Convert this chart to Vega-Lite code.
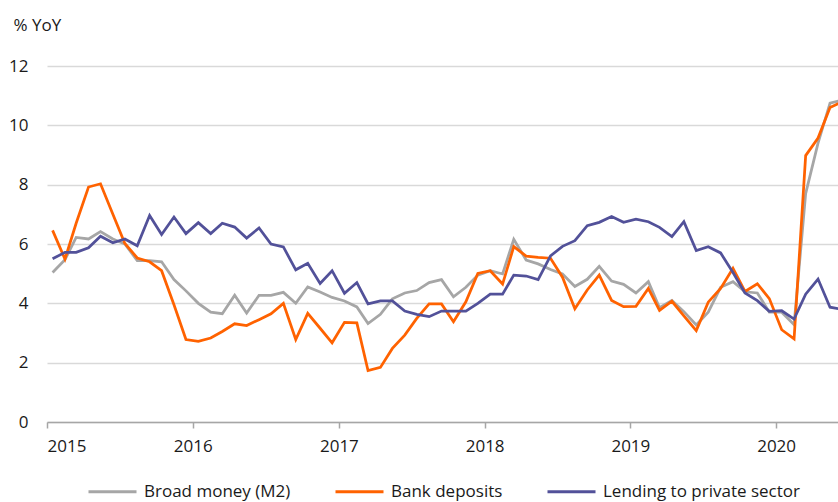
{
  "$schema": "https://vega.github.io/schema/vega-lite/v6.json",
  "width": 791,
  "height": 356,
  "autosize": {"type": "none"},
  "padding": {"left": 47, "top": 66, "right": 0, "bottom": 80},
  "background": "white",
  "config": {"font": "Open Sans", "view": {"stroke": null}},
  "data": {
    "values": [
      {"date": "2015-01-15", "Broad money (M2)": 5.04, "Bank deposits": 6.46, "Lending to private sector": 5.5},
      {"date": "2015-02-15", "Broad money (M2)": 5.47, "Bank deposits": 5.49, "Lending to private sector": 5.72},
      {"date": "2015-03-15", "Broad money (M2)": 6.22, "Bank deposits": 6.7, "Lending to private sector": 5.72},
      {"date": "2015-04-15", "Broad money (M2)": 6.17, "Bank deposits": 7.92, "Lending to private sector": 5.87},
      {"date": "2015-05-15", "Broad money (M2)": 6.42, "Bank deposits": 8.03, "Lending to private sector": 6.26},
      {"date": "2015-06-15", "Broad money (M2)": 6.17, "Bank deposits": 7.0, "Lending to private sector": 6.04},
      {"date": "2015-07-15", "Broad money (M2)": 6.0, "Bank deposits": 6.02, "Lending to private sector": 6.17},
      {"date": "2015-08-15", "Broad money (M2)": 5.44, "Bank deposits": 5.53, "Lending to private sector": 5.94},
      {"date": "2015-09-15", "Broad money (M2)": 5.44, "Bank deposits": 5.4, "Lending to private sector": 6.96},
      {"date": "2015-10-15", "Broad money (M2)": 5.4, "Bank deposits": 5.1, "Lending to private sector": 6.32},
      {"date": "2015-11-15", "Broad money (M2)": 4.8, "Bank deposits": 3.95, "Lending to private sector": 6.91},
      {"date": "2015-12-15", "Broad money (M2)": 4.42, "Bank deposits": 2.78, "Lending to private sector": 6.35},
      {"date": "2016-01-15", "Broad money (M2)": 4.0, "Bank deposits": 2.72, "Lending to private sector": 6.72},
      {"date": "2016-02-15", "Broad money (M2)": 3.7, "Bank deposits": 2.83, "Lending to private sector": 6.35},
      {"date": "2016-03-15", "Broad money (M2)": 3.65, "Bank deposits": 3.05, "Lending to private sector": 6.7},
      {"date": "2016-04-15", "Broad money (M2)": 4.27, "Bank deposits": 3.31, "Lending to private sector": 6.57},
      {"date": "2016-05-15", "Broad money (M2)": 3.67, "Bank deposits": 3.25, "Lending to private sector": 6.2},
      {"date": "2016-06-15", "Broad money (M2)": 4.27, "Bank deposits": 3.45, "Lending to private sector": 6.54},
      {"date": "2016-07-15", "Broad money (M2)": 4.27, "Bank deposits": 3.65, "Lending to private sector": 6.0},
      {"date": "2016-08-15", "Broad money (M2)": 4.37, "Bank deposits": 4.0, "Lending to private sector": 5.9},
      {"date": "2016-09-15", "Broad money (M2)": 4.0, "Bank deposits": 2.78, "Lending to private sector": 5.13},
      {"date": "2016-10-15", "Broad money (M2)": 4.55, "Bank deposits": 3.66, "Lending to private sector": 5.35},
      {"date": "2016-11-15", "Broad money (M2)": 4.38, "Bank deposits": 3.16, "Lending to private sector": 4.67},
      {"date": "2016-12-15", "Broad money (M2)": 4.2, "Bank deposits": 2.67, "Lending to private sector": 5.1},
      {"date": "2017-01-15", "Broad money (M2)": 4.08, "Bank deposits": 3.36, "Lending to private sector": 4.34},
      {"date": "2017-02-15", "Broad money (M2)": 3.88, "Bank deposits": 3.34, "Lending to private sector": 4.7},
      {"date": "2017-03-15", "Broad money (M2)": 3.32, "Bank deposits": 1.73, "Lending to private sector": 3.98},
      {"date": "2017-04-15", "Broad money (M2)": 3.63, "Bank deposits": 1.84, "Lending to private sector": 4.08},
      {"date": "2017-05-15", "Broad money (M2)": 4.15, "Bank deposits": 2.48, "Lending to private sector": 4.08},
      {"date": "2017-06-15", "Broad money (M2)": 4.35, "Bank deposits": 2.93, "Lending to private sector": 3.74},
      {"date": "2017-07-15", "Broad money (M2)": 4.43, "Bank deposits": 3.49, "Lending to private sector": 3.63},
      {"date": "2017-08-15", "Broad money (M2)": 4.7, "Bank deposits": 3.98, "Lending to private sector": 3.55},
      {"date": "2017-09-15", "Broad money (M2)": 4.8, "Bank deposits": 3.98, "Lending to private sector": 3.74},
      {"date": "2017-10-15", "Broad money (M2)": 4.22, "Bank deposits": 3.38, "Lending to private sector": 3.74},
      {"date": "2017-11-15", "Broad money (M2)": 4.54, "Bank deposits": 4.05, "Lending to private sector": 3.74},
      {"date": "2017-12-15", "Broad money (M2)": 4.95, "Bank deposits": 5.01, "Lending to private sector": 4.0},
      {"date": "2018-01-15", "Broad money (M2)": 5.1, "Bank deposits": 5.1, "Lending to private sector": 4.31},
      {"date": "2018-02-15", "Broad money (M2)": 4.99, "Bank deposits": 4.65, "Lending to private sector": 4.31},
      {"date": "2018-03-15", "Broad money (M2)": 6.16, "Bank deposits": 5.91, "Lending to private sector": 4.95},
      {"date": "2018-04-15", "Broad money (M2)": 5.46, "Bank deposits": 5.59, "Lending to private sector": 4.92},
      {"date": "2018-05-15", "Broad money (M2)": 5.33, "Bank deposits": 5.55, "Lending to private sector": 4.8},
      {"date": "2018-06-15", "Broad money (M2)": 5.14, "Bank deposits": 5.52, "Lending to private sector": 5.6},
      {"date": "2018-07-15", "Broad money (M2)": 4.99, "Bank deposits": 4.88, "Lending to private sector": 5.92},
      {"date": "2018-08-15", "Broad money (M2)": 4.57, "Bank deposits": 3.82, "Lending to private sector": 6.11},
      {"date": "2018-09-15", "Broad money (M2)": 4.81, "Bank deposits": 4.45, "Lending to private sector": 6.62},
      {"date": "2018-10-15", "Broad money (M2)": 5.25, "Bank deposits": 4.95, "Lending to private sector": 6.73},
      {"date": "2018-11-15", "Broad money (M2)": 4.75, "Bank deposits": 4.1, "Lending to private sector": 6.93},
      {"date": "2018-12-15", "Broad money (M2)": 4.64, "Bank deposits": 3.89, "Lending to private sector": 6.73},
      {"date": "2019-01-15", "Broad money (M2)": 4.35, "Bank deposits": 3.9, "Lending to private sector": 6.84},
      {"date": "2019-02-15", "Broad money (M2)": 4.73, "Bank deposits": 4.5, "Lending to private sector": 6.75},
      {"date": "2019-03-15", "Broad money (M2)": 3.85, "Bank deposits": 3.76, "Lending to private sector": 6.56},
      {"date": "2019-04-15", "Broad money (M2)": 4.1, "Bank deposits": 4.07, "Lending to private sector": 6.25},
      {"date": "2019-05-15", "Broad money (M2)": 3.72, "Bank deposits": 3.58, "Lending to private sector": 6.75},
      {"date": "2019-06-15", "Broad money (M2)": 3.27, "Bank deposits": 3.08, "Lending to private sector": 5.78},
      {"date": "2019-07-15", "Broad money (M2)": 3.7, "Bank deposits": 4.04, "Lending to private sector": 5.91},
      {"date": "2019-08-15", "Broad money (M2)": 4.54, "Bank deposits": 4.5, "Lending to private sector": 5.7},
      {"date": "2019-09-15", "Broad money (M2)": 4.73, "Bank deposits": 5.18, "Lending to private sector": 5.04},
      {"date": "2019-10-15", "Broad money (M2)": 4.39, "Bank deposits": 4.4, "Lending to private sector": 4.35},
      {"date": "2019-11-15", "Broad money (M2)": 4.35, "Bank deposits": 4.66, "Lending to private sector": 4.09},
      {"date": "2019-12-15", "Broad money (M2)": 3.7, "Bank deposits": 4.16, "Lending to private sector": 3.73},
      {"date": "2020-01-15", "Broad money (M2)": 3.7, "Bank deposits": 3.11, "Lending to private sector": 3.75},
      {"date": "2020-02-15", "Broad money (M2)": 3.28, "Bank deposits": 2.8, "Lending to private sector": 3.47},
      {"date": "2020-03-15", "Broad money (M2)": 7.7, "Bank deposits": 8.98, "Lending to private sector": 4.31},
      {"date": "2020-04-15", "Broad money (M2)": 9.4, "Bank deposits": 9.57, "Lending to private sector": 4.82},
      {"date": "2020-05-15", "Broad money (M2)": 10.75, "Bank deposits": 10.6, "Lending to private sector": 3.87},
      {"date": "2020-06-15", "Broad money (M2)": 10.85, "Bank deposits": 10.8, "Lending to private sector": 3.8}
    ]
  },
  "transform": [
    {"fold": ["Broad money (M2)", "Bank deposits", "Lending to private sector"], "as": ["series", "value"]}
  ],
  "mark": {"type": "line", "strokeWidth": 2.75, "clip": true},
  "encoding": {
    "x": {
      "field": "date",
      "type": "temporal",
      "scale": {
        "type": "utc",
        "domain": [
          {"year": 2015, "month": 1, "date": 1, "utc": true},
          {"year": 2020, "month": 6, "date": 4, "utc": true}
        ]
      },
      "axis": {
        "values": [
          {"year": 2015, "month": 1, "date": 1, "utc": true},
          {"year": 2016, "month": 1, "date": 1, "utc": true},
          {"year": 2017, "month": 1, "date": 1, "utc": true},
          {"year": 2018, "month": 1, "date": 1, "utc": true},
          {"year": 2019, "month": 1, "date": 1, "utc": true},
          {"year": 2020, "month": 1, "date": 1, "utc": true}
        ],
        "format": "%Y",
        "formatType": "utc",
        "title": null,
        "grid": false,
        "domainColor": "#a6a6a6",
        "domainWidth": 1.5,
        "tickColor": "#a6a6a6",
        "tickWidth": 1.5,
        "tickSize": 6,
        "labelFontSize": 17,
        "labelColor": "#1a1a1a",
        "labelPadding": 10
      }
    },
    "y": {
      "field": "value",
      "type": "quantitative",
      "scale": {"domain": [0, 12]},
      "axis": {
        "values": [0, 2, 4, 6, 8, 10, 12],
        "grid": true,
        "gridColor": "#d9d9d9",
        "gridWidth": 1.5,
        "domain": false,
        "ticks": false,
        "labelFontSize": 17,
        "labelColor": "#1a1a1a",
        "labelPadding": 19,
        "title": "% YoY",
        "titleAngle": 0,
        "titleAlign": "left",
        "titleBaseline": "middle",
        "titleX": -34,
        "titleY": -41,
        "titleFontSize": 17,
        "titleFontWeight": "normal",
        "titleColor": "#1a1a1a"
      }
    },
    "color": {
      "field": "series",
      "type": "nominal",
      "scale": {
        "domain": ["Broad money (M2)", "Bank deposits", "Lending to private sector"],
        "range": ["#a6a6a6", "#ff6200", "#525199"]
      },
      "legend": {
        "title": null,
        "orient": "none",
        "legendX": 40,
        "legendY": 400,
        "direction": "horizontal",
        "symbolType": "stroke",
        "symbolSize": 2304,
        "symbolStrokeWidth": 3,
        "labelFontSize": 17,
        "labelColor": "#1a1a1a",
        "labelLimit": 400,
        "labelOffset": 6,
        "columnPadding": 38
      }
    }
  }
}
